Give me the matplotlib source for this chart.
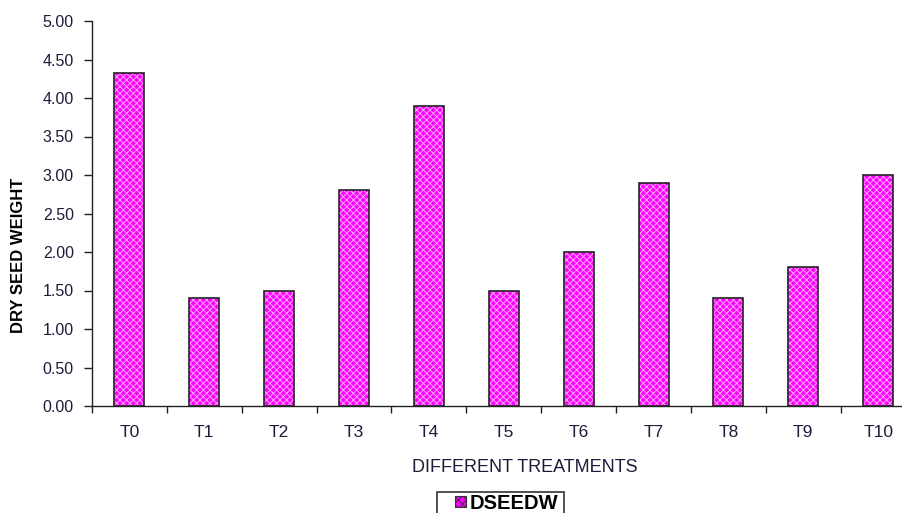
import matplotlib
matplotlib.use("Agg")
import matplotlib.pyplot as plt
from matplotlib.patches import Patch, Rectangle

plt.rcParams['font.family'] = ['Liberation Sans', 'DejaVu Sans']
plt.rcParams['hatch.linewidth'] = 0.7

treatments = ["T0", "T1", "T2", "T3", "T4", "T5", "T6", "T7", "T8", "T9", "T10"]
dseedw = [4.33, 1.40, 1.50, 2.80, 3.90, 1.50, 2.00, 2.90, 1.40, 1.80, 3.00]
yticks = [0.0, 0.5, 1.0, 1.5, 2.0, 2.5, 3.0, 3.5, 4.0, 4.5, 5.0]

W, H = 902, 513
fig = plt.figure(figsize=(W / 100, H / 100), dpi=100)
ax = fig.add_axes([92 / W, (H - 406) / H, 823.6 / W, (406 - 21) / H])

x = list(range(len(treatments)))
bar_fill = "#ff00ff"
dot_col = "#ffa8ff"
# hatched fill first, then a plain black outline on top
ax.bar(x, dseedw, width=0.4, color=bar_fill, edgecolor=dot_col, hatch="xxxxx", linewidth=0)
ax.bar(x, dseedw, width=0.4, facecolor="none", edgecolor="#222222", linewidth=1.2)

ax.set_xlim(-0.5, len(treatments) - 0.5)
ax.set_ylim(0, 5.0)
ax.set_yticks(yticks)
ax.set_yticklabels([f"{v:.2f}" for v in yticks])

# category boundaries get the tick marks, centres get the labels
ax.set_xticks([i - 0.5 for i in range(len(treatments) + 1)])
ax.set_xticklabels([])
ax.set_xticks(x, minor=True)
ax.set_xticklabels(treatments, minor=True)
ax.tick_params(axis="x", which="major", direction="out", length=5, width=1, color="#222222")
ax.tick_params(axis="x", which="minor", length=0, pad=14, labelsize=12.5, labelcolor="#1c1c3a")
ax.tick_params(axis="y", direction="out", length=6, width=1, color="#222222",
               labelsize=11.5, labelcolor="#1c1c3a", pad=7)

for side in ["top", "right"]:
    ax.spines[side].set_visible(False)
for side in ["left", "bottom"]:
    ax.spines[side].set_color("#222222")
    ax.spines[side].set_linewidth(1)

fig.text(19 / W, 1 - 255 / H, "DRY SEED WEIGHT", rotation=90, ha="center", va="center",
         fontsize=12, fontweight="bold", color="black")
fig.text(525 / W, 1 - 468 / H, "DIFFERENT TREATMENTS", ha="center", va="center",
         fontsize=13, color="#1c1c3a")

# legend: key + label without frame, box drawn separately (runs off the bottom edge)
handle = Patch(facecolor=bar_fill, edgecolor="#333333", hatch="xxxx", linewidth=0.8)
leg = fig.legend([handle], ["DSEEDW"], loc="upper left", bbox_to_anchor=(453 / W, 1 - 492 / H),
                 frameon=False, handlelength=0.55, handleheight=0.45,
                 handletextpad=0.2, borderpad=0.1, borderaxespad=0,
                 prop={"size": 14.5, "weight": "bold"})
fig.patches.append(Rectangle((437 / W, -0.05), (564 - 437) / W, (H - 492) / H + 0.05,
                             transform=fig.transFigure, facecolor="none",
                             edgecolor="#333333", linewidth=1.2))

fig.savefig("out.png", dpi=100)
